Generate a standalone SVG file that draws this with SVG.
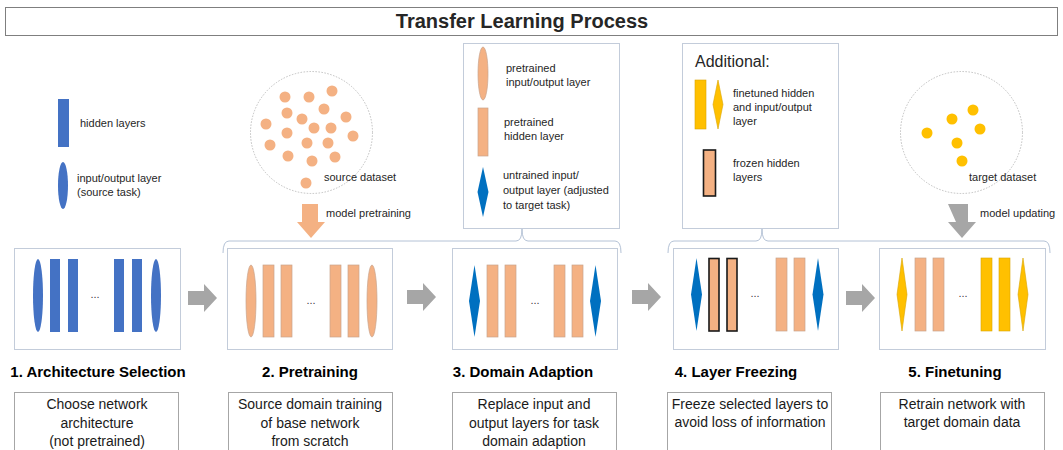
<svg xmlns="http://www.w3.org/2000/svg" width="1063" height="450" viewBox="0 0 1063 450">
<style>
text{font-family:"Liberation Sans",Arial,sans-serif;fill:#262626}
.leg{font-size:11px}
.lbl{font-size:15px;font-weight:bold;text-anchor:middle;fill:#000}
.desc{font-size:14px;text-anchor:middle;fill:#1a1a1a}
.dots{font-size:11px;text-anchor:middle;fill:#404040}
.panel{fill:#fff;stroke:#C3CCDA;stroke-width:1}
.dbox{fill:#fff;stroke:#A6A6A6;stroke-width:1}
.hb{fill:#4472C4}
.or{fill:#F4B183;stroke:#C9A48C;stroke-width:0.7}
.fr{fill:#F4B183;stroke:#1a1a1a;stroke-width:1.6}
.bd{fill:#0070C0}
.yl{fill:#FFC000;stroke:#D9A400;stroke-width:0.6}
.ga{fill:#A6A6A6}
.brace{fill:none;stroke:#B4C2D6;stroke-width:1}
.ds{fill:#F4B183}
.dt{fill:#FFC000}
.circ{fill:none;stroke:#BFBFBF;stroke-width:1;stroke-dasharray:1.5 1.5}
</style>
<defs>
<path id="rarrow" d="M0,-7 H16 V-14 L29,0 L16,14 V7 H0 Z"/>
</defs>

<g id="title">
<rect x="5.5" y="7.5" width="1052" height="28" fill="#fff" stroke="#7F7F7F" stroke-width="1"/>
<text x="522" y="28" font-size="20" font-weight="bold" text-anchor="middle" fill="#000">Transfer Learning Process</text>
</g>

<g id="legend-source">
<rect x="58" y="99" width="11" height="48" class="hb"/>
<text class="leg" x="80" y="127">hidden layers</text>
<ellipse cx="63" cy="185.5" rx="5" ry="23.5" class="hb"/>
<text class="leg" x="77" y="182">input/output layer</text>
<text class="leg" x="77" y="196">(source task)</text>
</g>

<g id="source-dataset">
<circle cx="311.5" cy="132.5" r="61" class="circ"/>
<g class="ds">
<circle cx="285" cy="97" r="5.5"/><circle cx="309" cy="97" r="5.5"/><circle cx="332" cy="91" r="5.5"/>
<circle cx="287" cy="113" r="5.5"/><circle cx="324" cy="109" r="5.5"/><circle cx="346" cy="117" r="5.5"/>
<circle cx="266" cy="124" r="5.5"/><circle cx="302" cy="119" r="5.5"/><circle cx="314" cy="128" r="5.5"/>
<circle cx="331" cy="128" r="5.5"/><circle cx="287" cy="133" r="5.5"/><circle cx="353" cy="136" r="5.5"/>
<circle cx="270" cy="145" r="5.5"/><circle cx="307" cy="143" r="5.5"/><circle cx="328" cy="143" r="5.5"/>
<circle cx="288" cy="156" r="5.5"/><circle cx="312" cy="161" r="5.5"/><circle cx="335" cy="157" r="5.5"/>
<circle cx="306" cy="183" r="5.5"/>
</g>
<text class="leg" x="324" y="181">source dataset</text>
</g>

<g id="legend-pretrained">
<rect x="463.5" y="43.5" width="156" height="185" fill="#fff" stroke="#C3CCDA"/>
<ellipse cx="483" cy="73.5" rx="5" ry="26.5" class="or"/>
<text class="leg" x="506" y="72">pretrained</text>
<text class="leg" x="506" y="86">input/output layer</text>
<rect x="478" y="108" width="10" height="48" class="or"/>
<text class="leg" x="504" y="126">pretrained</text>
<text class="leg" x="504" y="140">hidden layer</text>
<polygon points="483,167 488.5,192 483,217 477.5,192" class="bd"/>
<text class="leg" x="503" y="179">untrained input/</text>
<text class="leg" x="503" y="194">output layer (adjusted</text>
<text class="leg" x="503" y="209">to target task)</text>
</g>

<g id="legend-additional">
<rect x="682.5" y="43.5" width="156" height="185" fill="#fff" stroke="#C3CCDA"/>
<text x="695" y="67" font-size="16">Additional:</text>
<rect x="695" y="80" width="11" height="49" class="yl"/>
<polygon points="718,80 723,104.5 718,129 713,104.5" class="yl"/>
<text class="leg" x="733" y="97">finetuned hidden</text>
<text class="leg" x="733" y="111">and input/output</text>
<text class="leg" x="733" y="125">layer</text>
<rect x="703.5" y="150" width="12" height="46" class="fr"/>
<text class="leg" x="733" y="167">frozen hidden</text>
<text class="leg" x="733" y="181">layers</text>
</g>

<g id="target-dataset">
<circle cx="961.5" cy="132.5" r="61" class="circ"/>
<g class="dt">
<circle cx="973" cy="110" r="5.5"/><circle cx="952" cy="119" r="5.5"/><circle cx="980" cy="129" r="5.5"/>
<circle cx="927" cy="133" r="5.5"/><circle cx="957" cy="143" r="5.5"/><circle cx="962" cy="161" r="5.5"/>
</g>
<text class="leg" x="969" y="181">target dataset</text>
</g>

<g id="connectors">
<path d="M302,204 H318 V222 H325 L311,238 L297,222 H302 Z" fill="#F4B183"/>
<text class="leg" x="326" y="217">model pretraining</text>
<path d="M948,204 H968 V222 H976 L962,238 L948,222 H956 Z" fill="#A6A6A6" transform="translate(-0,0)"/>
<text class="leg" x="980" y="217">model updating</text>
<path class="brace" d="M223,253 Q223,241 229,241 H516 Q522,241 522,229 Q522,241 528,241 H615 Q621,241 621,253"/>
<path class="brace" d="M668,253 Q668,241 674,241 H756 Q762,241 762,229 Q762,241 768,241 H1044 Q1050,241 1050,253"/>
<use href="#rarrow" class="ga" x="188" y="298"/>
<use href="#rarrow" class="ga" x="407" y="297"/>
<use href="#rarrow" class="ga" x="632" y="297"/>
<use href="#rarrow" class="ga" x="846" y="298"/>
</g>

<g id="step1">
<rect x="14.5" y="248.5" width="166" height="101" class="panel"/>
<ellipse cx="38" cy="295.5" rx="5" ry="36.5" class="hb"/>
<rect x="50" y="259" width="10" height="73" class="hb"/>
<rect x="68" y="259" width="10" height="73" class="hb"/>
<text class="dots" x="95" y="298">...</text>
<rect x="114" y="259" width="10" height="73" class="hb"/>
<rect x="132" y="259" width="10" height="73" class="hb"/>
<ellipse cx="156" cy="295.5" rx="5" ry="36.5" class="hb"/>
<text class="lbl" x="98" y="377">1. Architecture Selection</text>
<rect x="14.5" y="392.5" width="164" height="70" class="dbox"/>
<text class="desc" x="97" y="409">Choose network</text>
<text class="desc" x="97" y="428">architecture</text>
<text class="desc" x="97" y="446">(not pretrained)</text>
</g>

<g id="step2">
<rect x="227.5" y="248.5" width="165" height="101" class="panel"/>
<ellipse cx="251" cy="301" rx="5" ry="36" class="or"/>
<rect x="263" y="265" width="11" height="72" class="or"/>
<rect x="281" y="265" width="11" height="72" class="or"/>
<text class="dots" x="311" y="304">...</text>
<rect x="330" y="265" width="11" height="72" class="or"/>
<rect x="348" y="265" width="11" height="72" class="or"/>
<ellipse cx="372" cy="301" rx="5" ry="36" class="or"/>
<text class="lbl" x="310" y="377">2. Pretraining</text>
<rect x="228.5" y="392.5" width="164" height="70" class="dbox"/>
<text class="desc" x="310" y="409">Source domain training</text>
<text class="desc" x="310" y="428">of base network</text>
<text class="desc" x="310" y="446">from scratch</text>
</g>

<g id="step3">
<rect x="452.5" y="248.5" width="165" height="101" class="panel"/>
<polygon points="474.5,265 480,301 474.5,337 469,301" class="bd"/>
<rect x="487" y="265" width="11" height="72" class="or"/>
<rect x="505" y="265" width="11" height="72" class="or"/>
<text class="dots" x="535" y="304">...</text>
<rect x="554" y="265" width="11" height="72" class="or"/>
<rect x="572" y="265" width="11" height="72" class="or"/>
<polygon points="595.5,265 601,301 595.5,337 590,301" class="bd"/>
<text class="lbl" x="523" y="377">3. Domain Adaption</text>
<rect x="452.5" y="392.5" width="164" height="70" class="dbox"/>
<text class="desc" x="534" y="409">Replace input and</text>
<text class="desc" x="534" y="428">output layers for task</text>
<text class="desc" x="534" y="446">domain adaption</text>
</g>

<g id="step4">
<rect x="673.5" y="248.5" width="165" height="101" class="panel"/>
<polygon points="696.5,258 702,294.5 696.5,331 691,294.5" class="bd"/>
<rect x="709" y="258.5" width="10" height="72.5" class="fr"/>
<rect x="727" y="258.5" width="10" height="72.5" class="fr"/>
<text class="dots" x="755" y="297">...</text>
<rect x="776" y="258" width="11" height="73" class="or"/>
<rect x="794" y="258" width="11" height="73" class="or"/>
<polygon points="818,258 823.5,294.5 818,331 812.5,294.5" class="bd"/>
<text class="lbl" x="736" y="377">4. Layer Freezing</text>
<rect x="667.5" y="392.5" width="164" height="70" class="dbox"/>
<text class="desc" x="750" y="409">Freeze selected layers to</text>
<text class="desc" x="750" y="427">avoid loss of information</text>
</g>

<g id="step5">
<rect x="879.5" y="248.5" width="166" height="101" class="panel"/>
<polygon points="902,258 907,294.5 902,331 897,294.5" class="yl"/>
<rect x="915" y="258" width="11" height="73" class="or"/>
<rect x="933" y="258" width="11" height="73" class="or"/>
<text class="dots" x="963" y="297">...</text>
<rect x="981" y="258" width="11" height="73" class="yl"/>
<rect x="999" y="258" width="11" height="73" class="yl"/>
<polygon points="1023,258 1028,294.5 1023,331 1018,294.5" class="yl"/>
<text class="lbl" x="955" y="377">5. Finetuning</text>
<rect x="880.5" y="392.5" width="164" height="70" class="dbox"/>
<text class="desc" x="962" y="409">Retrain network with</text>
<text class="desc" x="962" y="427">target domain data</text>
</g>
</svg>
